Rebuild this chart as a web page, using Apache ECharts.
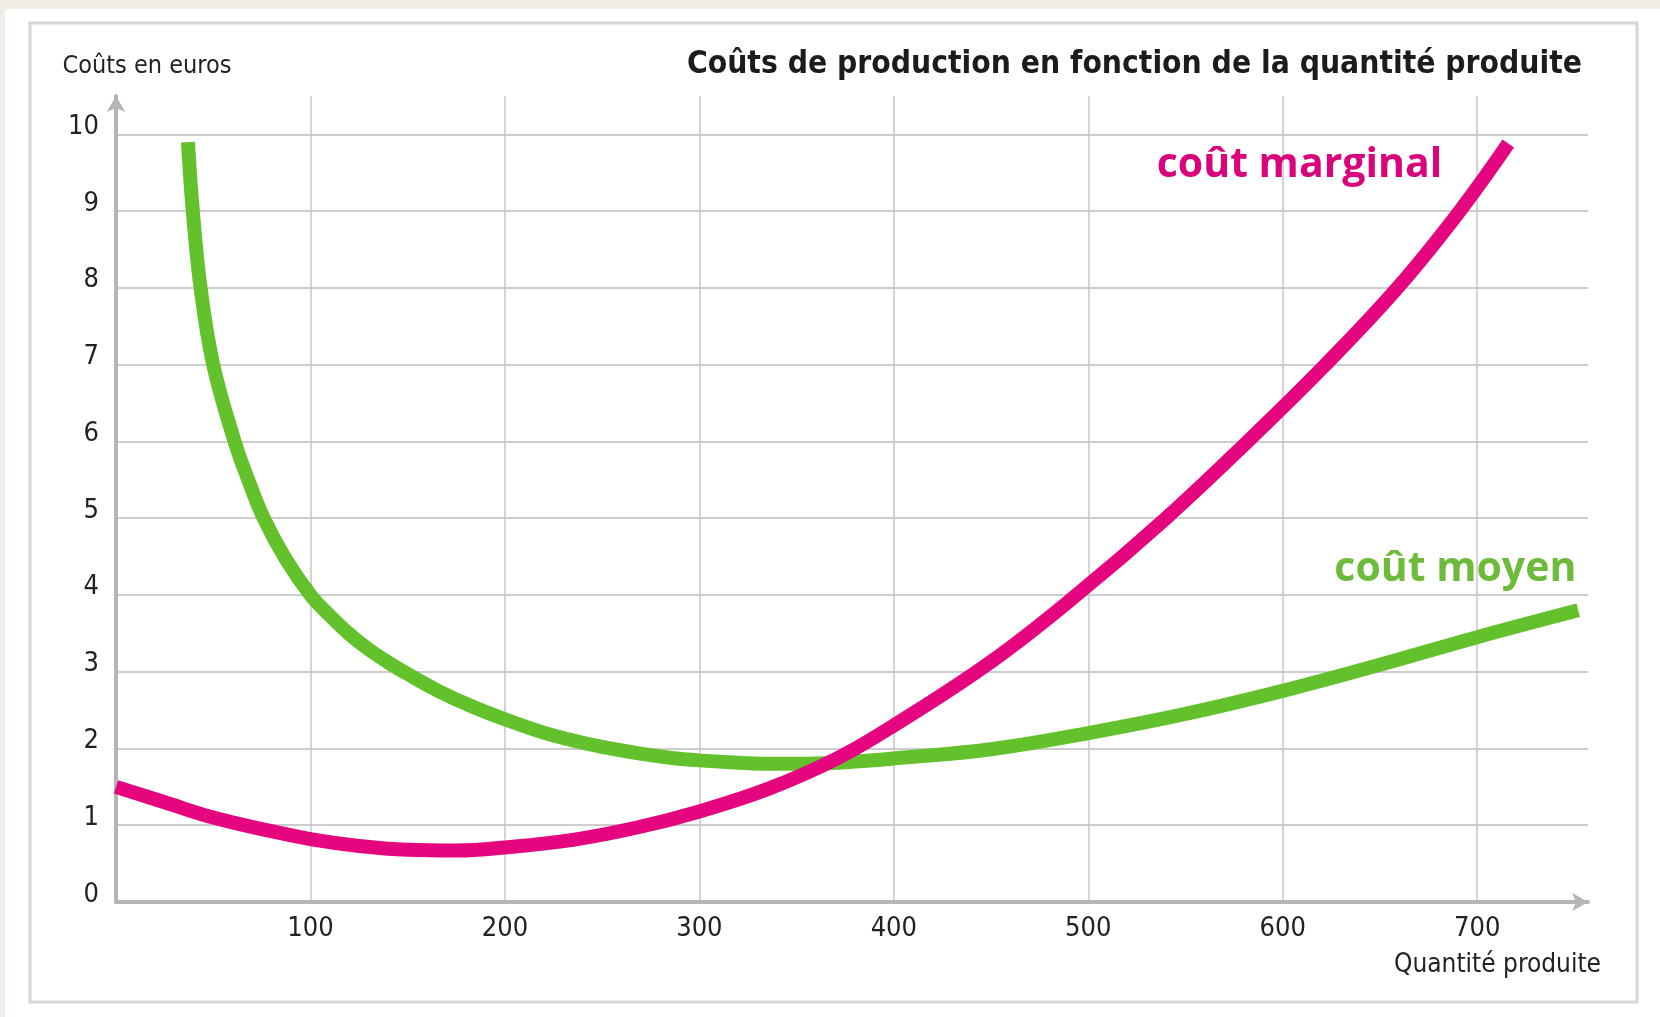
<!DOCTYPE html>
<html>
<head>
<meta charset="utf-8">
<script src="https://cdn.jsdelivr.net/npm/echarts@6/dist/echarts.min.js"></script>
<style>
html,body{margin:0;padding:0;background:#f0ede6;}
#chart{width:1660px;height:1017px;}
</style>
</head>
<body>
<div id="chart"></div>
<script>
// ---- data ----
const titleText = 'Coûts de production en fonction de la quantité produite';
const yAxisName = 'Coûts en euros';
const xAxisName = 'Quantité produite';
const xTicks = [100, 200, 300, 400, 500, 600, 700];
const yTicks = [0, 1, 2, 3, 4, 5, 6, 7, 8, 9, 10];
const marginalName = 'coût marginal';
const averageName = 'coût moyen';
// coût moyen (average cost) [quantity, euros]
const averageCost = [
  [37, 9.9], [39.5, 9], [43.5, 8], [50, 7], [61, 6], [68, 5.5], [76, 5],
  [87, 4.48], [100, 4.0], [110, 3.73], [120, 3.49], [130, 3.29], [140, 3.12],
  [150, 2.97], [165, 2.76], [182, 2.56], [200, 2.38], [217, 2.23], [234, 2.11],
  [250, 2.02], [268, 1.94], [285, 1.88], [300, 1.845], [320, 1.815], [340, 1.8],
  [360, 1.805], [380, 1.83], [400, 1.87], [450, 1.99], [500, 2.2], [550, 2.45],
  [600, 2.75], [650, 3.09], [700, 3.45], [752, 3.8]
];
// coût marginal (marginal cost) [quantity, euros]
const marginalCost = [
  [0, 1.5], [25, 1.3], [50, 1.1], [75, 0.95], [100, 0.82], [125, 0.73],
  [150, 0.68], [175, 0.67], [200, 0.71], [235, 0.81], [268, 0.97], [300, 1.18],
  [335, 1.47], [370, 1.86], [400, 2.3], [450, 3.13], [494, 4], [540, 5],
  [582, 6], [622, 7], [659, 8], [691, 9], [716, 9.88]
];

const GREEN = '#63c22c';
const MAGENTA = '#e5067f';
const NARROW = "'Liberation Sans Narrow', 'DejaVu Sans Condensed', 'Roboto Condensed', Roboto, sans-serif";
const BOLDF = "'Open Sans', 'Noto Sans', sans-serif";

const chart = echarts.init(document.getElementById('chart'), null, {renderer: 'canvas'});
chart.setOption({
  backgroundColor: '#f0ede6',
  animation: false,
  graphic: [
    {type: 'rect', z: -20, silent: true, shape: {x: 5, y: 9, width: 1655, height: 1008}, style: {fill: '#ffffff'}},
    {type: 'rect', z: -19, silent: true, shape: {x: 30, y: 23, width: 1607, height: 979}, style: {fill: '#ffffff', stroke: '#d6d6d6', lineWidth: 3}}
  ],
  title: {
    text: titleText,
    right: 78, top: 49, padding: 0,
    textStyle: {fontFamily: NARROW, fontWeight: 'bold', fontSize: 31.5, color: '#1c1c1c'}
  },
  grid: {left: 116, right: 72, top: 96, bottom: 115, containLabel: false},
  xAxis: {
    type: 'value', min: 0, max: 757, interval: 100,
    name: xAxisName, nameLocation: 'end', nameGap: 13,
    nameTextStyle: {fontFamily: NARROW, fontSize: 26, color: '#222', align: 'right', verticalAlign: 'top', padding: [50, 0, 0, 0]},
    axisLine: {show: true, symbol: ['none', 'arrow'], symbolSize: [14, 16], lineStyle: {color: '#b5b5b5', width: 4}},
    axisTick: {show: false},
    axisLabel: {
      margin: 13, fontFamily: NARROW, fontSize: 27, color: '#222',
      formatter: v => xTicks.includes(v) ? String(v) : ''
    },
    splitLine: {show: true, showMinLine: false, showMaxLine: false, lineStyle: {color: '#c6c6c6', width: 1.5}}
  },
  yAxis: {
    type: 'value', min: 0, max: 10.5, interval: 1,
    name: yAxisName, nameLocation: 'end', nameGap: 17,
    nameTextStyle: {fontFamily: NARROW, fontSize: 25, color: '#222', align: 'center', padding: [0, 0, 0, 62]},
    axisLine: {show: true, symbol: ['none', 'arrow'], symbolSize: [14, 16], lineStyle: {color: '#b5b5b5', width: 4}},
    axisTick: {show: false},
    axisLabel: {
      margin: 17, fontFamily: NARROW, fontSize: 27, color: '#222',
      verticalAlign: 'bottom', lineHeight: 15,
      formatter: v => yTicks.includes(v) ? String(v) : ''
    },
    splitLine: {show: true, showMinLine: false, showMaxLine: false, lineStyle: {color: '#cdcdcd', width: 2}}
  },
  series: [
    {
      name: averageName, type: 'line', data: averageCost, smooth: 0.4,
      showSymbol: false, lineStyle: {color: GREEN, width: 14, cap: 'butt'}, z: 3,
      markPoint: {
        symbol: 'circle', symbolSize: 0,
        label: {show: true, position: 'left', distance: 0, formatter: averageName,
          fontFamily: BOLDF, fontWeight: 'bold', fontSize: 41, color: '#6cbb3a'},
        data: [{coord: [751, 4.34]}]
      }
    },
    {
      name: marginalName, type: 'line', data: marginalCost, smooth: 0.4,
      showSymbol: false, lineStyle: {color: MAGENTA, width: 14, cap: 'butt'}, z: 4,
      markPoint: {
        symbol: 'circle', symbolSize: 0,
        label: {show: true, position: 'left', distance: 0, formatter: marginalName,
          fontFamily: BOLDF, fontWeight: 'bold', fontSize: 41, color: '#d9037b'},
        data: [{coord: [682, 9.6]}]
      }
    }
  ]
});
</script>
</body>
</html>
